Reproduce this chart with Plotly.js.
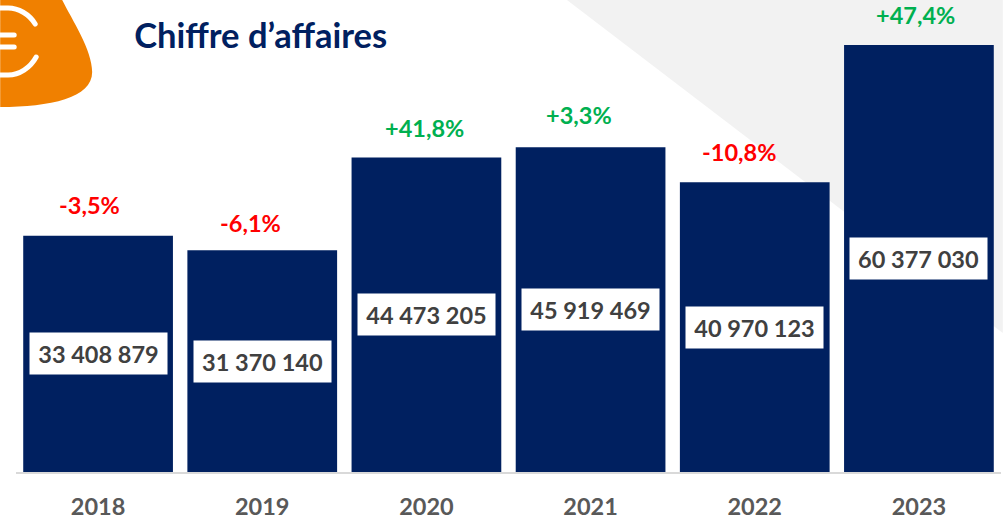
<!DOCTYPE html>
<html lang="fr">
<head>
<meta charset="utf-8">
<title>Chiffre d'affaires</title>
<script src="https://cdn.plot.ly/plotly-3.0.1.min.js"></script>
<style>
html,body{margin:0;padding:0;background:#fff;overflow:hidden}
#chart{width:1003px;height:519px}
.shapelayer path{stroke-linecap:round}
</style>
</head>
<body>
<div id="chart"></div>
<script>
var years = ['2018','2019','2020','2021','2022','2023'];
var revenue = [33408879,31370140,44473205,45919469,40970123,60377030];
var revenueLabels = ['33 408 879','31 370 140','44 473 205','45 919 469','40 970 123','60 377 030'];
var changeLabels = ['-3,5%','-6,1%','+41,8%','+3,3%','-10,8%','+47,4%'];
var changeColors = ['#ff0000','#ff0000','#00b050','#00b050','#ff0000','#00b050'];
var changeXShift = [-9,-12,-2,-12,-16,-3];
var changeYShift = [31,27,29,32,30,30];

var W=1003,H=519,mL=15.8,mR=1.8,mT=0,mB=47;
function px(x){return (x-mL)/(W-mL-mR);}
function py(y){return (H-mB-y)/(H-mT-mB);}
function P(cmd){ // pixel path -> paper path
  return cmd.map(function(s){
    return s[0]+' '+s.slice(1).map(function(p,i){return (i%2?py(p):px(p)).toFixed(5);}).join(',');
  }).join(' ');
}
var font='Lato, sans-serif';
var shapes=[
 {type:'path',xref:'paper',yref:'paper',layer:'below',fillcolor:'#f2f2f2',line:{width:0},
  path:P([['M',567,0],['L',1003,333],['L',1003,0]])+' Z'},
 {type:'path',xref:'paper',yref:'paper',layer:'above',fillcolor:'#f08000',line:{width:0},
  path:P([['M',0,0],['L',62,0],['C',72,20,92,50,92,72],['C',92,98,50,107,0,107]])+' Z'},
 {type:'path',xref:'paper',yref:'paper',layer:'above',line:{color:'#ffffff',width:5},
  path:P([['M',35,24],['C',29,14,18,8,8,8],['L',0,8]])},
 {type:'path',xref:'paper',yref:'paper',layer:'above',line:{color:'#ffffff',width:5},
  path:P([['M',36,57],['C',30,68,19,75,8,75],['L',0,75]])},
 {type:'path',xref:'paper',yref:'paper',layer:'above',line:{color:'#ffffff',width:5},
  path:P([['M',0,35],['L',14,35]])},
 {type:'path',xref:'paper',yref:'paper',layer:'above',line:{color:'#ffffff',width:5},
  path:P([['M',0,47],['L',14,47]])}
];
var annotations=[];
years.forEach(function(y,i){
  annotations.push({x:i,y:revenue[i]/2,xref:'x',yref:'y',text:revenueLabels[i],showarrow:false,
    bgcolor:'#ffffff',width:137,height:41,align:'center',valign:'middle',borderpad:0,
    font:{family:font,size:23.5,color:'#404040',weight:700}});
  annotations.push({x:i,y:revenue[i],xref:'x',yref:'y',text:changeLabels[i],showarrow:false,
    xshift:changeXShift[i],yshift:changeYShift[i],xanchor:'center',yanchor:'middle',
    font:{family:font,size:23.5,color:changeColors[i],weight:700}});
});
Plotly.newPlot('chart',[{
  type:'bar',x:years,y:revenue,marker:{color:'#002060',line:{width:0}},hoverinfo:'x+y'
}],{
  width:W,height:H,margin:{l:mL,r:mR,t:mT,b:mB,pad:0},
  paper_bgcolor:'#ffffff',plot_bgcolor:'rgba(0,0,0,0)',showlegend:false,bargap:0.088,
  title:{text:'Chiffre d’affaires',font:{family:font,size:34.5,color:'#002060',weight:700},
    x:px(134),xref:'paper',xanchor:'left',y:1-36/H,yanchor:'middle',yref:'container'},
  xaxis:{type:'category',categoryorder:'array',categoryarray:years,range:[-0.5,5.5],showgrid:false,zeroline:false,
    showline:true,linecolor:'#d9d9d9',linewidth:2,ticks:'',ticklabelstandoff:13,
    tickfont:{family:font,size:23.5,color:'#595959',weight:700}},
  yaxis:{range:[0,66740000],visible:false,fixedrange:true},
  shapes:shapes,annotations:annotations
},{displayModeBar:false,staticPlot:true});
</script>
</body>
</html>
